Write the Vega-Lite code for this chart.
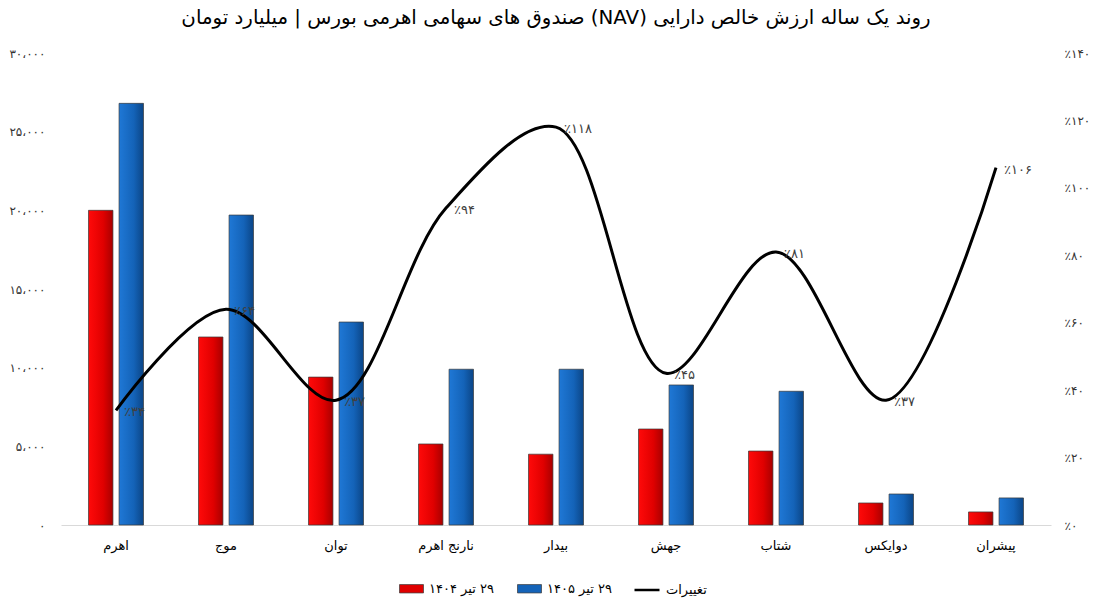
{
  "$schema": "https://vega.github.io/schema/vega-lite/v6.json",
  "width": 990,
  "height": 472,
  "autosize": {"type": "none"},
  "padding": {"left": 61, "top": 53, "right": 44, "bottom": 81},
  "background": "white",
  "config": {
    "font": "DejaVu Sans",
    "view": {"stroke": null},
    "axis": {"grid": false, "ticks": false, "labelColor": "#333333", "labelFont": "DejaVu Sans"}
  },
  "title": {
    "text": "\u202bروند یک ساله ارزش خالص دارایی (NAV) صندوق های سهامی اهرمی بورس | میلیارد تومان\u202c",
    "anchor": "middle",
    "frame": "group",
    "fontSize": 19.8,
    "fontWeight": "normal",
    "color": "#000000",
    "offset": 19
  },
  "datasets": {
    "bars": [
      {"fund": "اهرم", "series": "۲۹ تیر ۱۴۰۴", "value": 20000},
      {"fund": "اهرم", "series": "۲۹ تیر ۱۴۰۵", "value": 26800},
      {"fund": "موج", "series": "۲۹ تیر ۱۴۰۴", "value": 11950},
      {"fund": "موج", "series": "۲۹ تیر ۱۴۰۵", "value": 19700},
      {"fund": "توان", "series": "۲۹ تیر ۱۴۰۴", "value": 9400},
      {"fund": "توان", "series": "۲۹ تیر ۱۴۰۵", "value": 12900},
      {"fund": "نارنج اهرم", "series": "۲۹ تیر ۱۴۰۴", "value": 5150},
      {"fund": "نارنج اهرم", "series": "۲۹ تیر ۱۴۰۵", "value": 9900},
      {"fund": "بیدار", "series": "۲۹ تیر ۱۴۰۴", "value": 4500},
      {"fund": "بیدار", "series": "۲۹ تیر ۱۴۰۵", "value": 9900},
      {"fund": "جهش", "series": "۲۹ تیر ۱۴۰۴", "value": 6100},
      {"fund": "جهش", "series": "۲۹ تیر ۱۴۰۵", "value": 8900},
      {"fund": "شتاب", "series": "۲۹ تیر ۱۴۰۴", "value": 4700},
      {"fund": "شتاب", "series": "۲۹ تیر ۱۴۰۵", "value": 8500},
      {"fund": "دوایکس", "series": "۲۹ تیر ۱۴۰۴", "value": 1400},
      {"fund": "دوایکس", "series": "۲۹ تیر ۱۴۰۵", "value": 1970},
      {"fund": "پیشران", "series": "۲۹ تیر ۱۴۰۴", "value": 830},
      {"fund": "پیشران", "series": "۲۹ تیر ۱۴۰۵", "value": 1720}
    ],
    "change": [
      {"fund": "اهرم", "series": "تغییرات", "change": 34, "label": "٪۳۴"},
      {"fund": "موج", "series": "تغییرات", "change": 64, "label": "٪۶۴"},
      {"fund": "توان", "series": "تغییرات", "change": 37, "label": "٪۳۷"},
      {"fund": "نارنج اهرم", "series": "تغییرات", "change": 94, "label": "٪۹۴"},
      {"fund": "بیدار", "series": "تغییرات", "change": 118, "label": "٪۱۱۸"},
      {"fund": "جهش", "series": "تغییرات", "change": 45, "label": "٪۴۵"},
      {"fund": "شتاب", "series": "تغییرات", "change": 81, "label": "٪۸۱"},
      {"fund": "دوایکس", "series": "تغییرات", "change": 37, "label": "٪۳۷"},
      {"fund": "پیشران", "series": "تغییرات", "change": 106, "label": "٪۱۰۶"}
    ]
  },
  "encoding": {
    "x": {
      "field": "fund",
      "type": "nominal",
      "sort": ["اهرم", "موج", "توان", "نارنج اهرم", "بیدار", "جهش", "شتاب", "دوایکس", "پیشران"],
      "scale": {"paddingInner": 0.5, "paddingOuter": 0.25},
      "axis": {
        "title": null,
        "labelAngle": 0,
        "labelFontSize": 13,
        "labelColor": "#000000",
        "labelPadding": 14,
        "domainColor": "#d9d9d9",
        "domainWidth": 1
      }
    }
  },
  "layer": [
    {
      "data": {"name": "bars"},
      "mark": {"type": "bar", "stroke": "#3a3a3a", "strokeWidth": 0.7},
      "encoding": {
        "xOffset": {
          "field": "series",
          "type": "nominal",
          "sort": ["۲۹ تیر ۱۴۰۴", "۲۹ تیر ۱۴۰۵"],
          "scale": {"paddingInner": 0.2, "paddingOuter": 0}
        },
        "y": {
          "field": "value",
          "type": "quantitative",
          "scale": {"domain": [0, 30000], "nice": false},
          "axis": {
            "title": null,
            "orient": "left",
            "domain": false,
            "values": [0, 5000, 10000, 15000, 20000, 25000, 30000],
            "labelExpr": "['۰','۵،۰۰۰','۱۰،۰۰۰','۱۵،۰۰۰','۲۰،۰۰۰','۲۵،۰۰۰','۳۰،۰۰۰'][round(datum.value/5000)]",
            "labelFontSize": 12,
            "labelPadding": 16
          }
        },
        "color": {
          "condition": [
            {"test": "datum.series === '۲۹ تیر ۱۴۰۴'", "value": {"gradient": "linear", "x1": 0, "y1": 0, "x2": 1, "y2": 0, "stops": [{"offset": 0, "color": "#ff0a0a"}, {"offset": 0.6, "color": "#e00000"}, {"offset": 1, "color": "#a80000"}]}},
            {"test": "datum.series === '۲۹ تیر ۱۴۰۵'", "value": {"gradient": "linear", "x1": 0, "y1": 0, "x2": 1, "y2": 0, "stops": [{"offset": 0, "color": "#1f78d6"}, {"offset": 0.6, "color": "#1463b8"}, {"offset": 1, "color": "#0b4586"}]}}
          ],
          "field": "series",
          "type": "nominal",
          "scale": {
            "domain": ["۲۹ تیر ۱۴۰۴", "۲۹ تیر ۱۴۰۵"],
            "range": ["#e00000", "#1463b8"]
          },
          "legend": {
            "title": null,
            "orient": "none",
            "direction": "horizontal",
            "legendX": 338,
            "legendY": 523,
            "gridAlign": "all",
            "columnPadding": 22,
            "labelFontSize": 13,
            "labelColor": "#000000",
            "labelOffset": 5,
            "labelExpr": "'\u202b' + datum.label + '\u202c'",
            "symbolSize": 576,
            "symbolStrokeWidth": 0.7,
            "symbolStrokeColor": "#3a3a3a",
            "symbolType": "M-1,-0.35H1V0.35H-1Z"
          }
        }
      }
    },
    {
      "data": {"name": "change"},
      "encoding": {
        "y": {
          "field": "change",
          "type": "quantitative",
          "scale": {"domain": [0, 140], "nice": false},
          "axis": {
            "title": null,
            "orient": "right",
            "domain": false,
            "values": [0, 20, 40, 60, 80, 100, 120, 140],
            "labelExpr": "['٪۰','٪۲۰','٪۴۰','٪۶۰','٪۸۰','٪۱۰۰','٪۱۲۰','٪۱۴۰'][round(datum.value/20)]",
            "labelFontSize": 12,
            "labelPadding": 13
          }
        }
      },
      "layer": [
        {
          "mark": {"type": "line", "interpolate": "catmull-rom", "strokeWidth": 3},
          "encoding": {
            "stroke": {
              "field": "series",
              "type": "nominal",
              "scale": {"domain": ["تغییرات"], "range": ["#000000"]},
              "legend": {
                "title": null,
                "orient": "none",
                "legendX": 572,
                "legendY": 523,
                "labelFontSize": 13,
                "labelColor": "#000000",
                "labelOffset": 5,
                "symbolType": "stroke",
                "symbolSize": 625,
                "symbolStrokeWidth": 2.5
              }
            }
          }
        },
        {
          "mark": {"type": "text", "align": "left", "baseline": "middle", "dx": 8, "dy": 2, "fontSize": 13, "color": "#404040"},
          "encoding": {
            "text": {"field": "label"}
          }
        }
      ]
    }
  ],
  "resolve": {"scale": {"y": "independent"}}
}
